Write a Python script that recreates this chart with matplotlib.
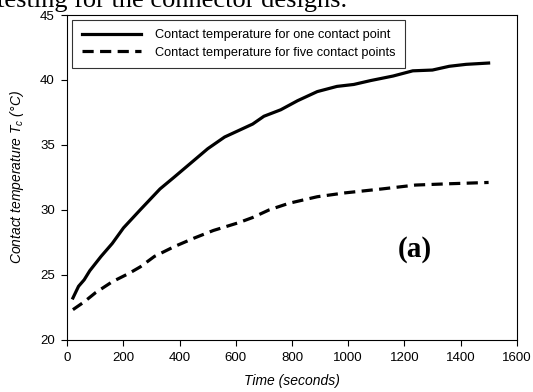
import numpy as np
import matplotlib
matplotlib.use('Agg')
import matplotlib.pyplot as plt

plt.rcParams['font.family'] = ['Liberation Sans', 'DejaVu Sans']
plt.rcParams['mathtext.fontset'] = 'custom'
plt.rcParams['mathtext.it'] = 'Liberation Sans:italic'
plt.rcParams['mathtext.rm'] = 'Liberation Sans'

# solid: one contact point
t_one = [20, 40, 60, 80, 120, 160, 200, 260, 330, 380, 440, 500, 560, 620,
         660, 700, 760, 820, 890, 960, 1020, 1080, 1160, 1230, 1300, 1360, 1420, 1500]
temp_one = [23.2, 24.1, 24.6, 25.3, 26.4, 27.4, 28.6, 30.0, 31.6, 32.5, 33.6, 34.7, 35.6, 36.2,
            36.6, 37.2, 37.7, 38.4, 39.1, 39.5, 39.65, 39.95, 40.3, 40.7, 40.76, 41.05, 41.2, 41.3]

# dashed: five contact points
t_five = [20, 60, 100, 160, 220, 260, 310, 380, 450, 520, 610, 660, 720, 790,
          890, 990, 1120, 1240, 1360, 1500]
temp_five = [22.3, 22.9, 23.6, 24.45, 25.1, 25.6, 26.4, 27.15, 27.8, 28.4, 29.0, 29.4, 30.0, 30.5,
             31.0, 31.3, 31.6, 31.9, 32.0, 32.1]

labels = ['Contact temperature for one contact point',
          'Contact temperature for five contact points']

fig = plt.figure(figsize=(5.33, 3.92), dpi=100)
ax = fig.add_axes([0.1263, 0.1339, 0.8431, 0.8278])

ax.plot(t_one, temp_one, color='k', lw=2.3, label=labels[0])
ax.plot(t_five, temp_five, color='k', lw=2.3, dashes=(3.5, 2), label=labels[1])

ax.set_xlim(0, 1600)
ax.set_ylim(20, 45)
ax.set_xticks(np.arange(0, 1601, 200))
ax.set_yticks(np.arange(20, 46, 5))
ax.tick_params(direction='out', length=4, width=0.8, labelsize=9.5, pad=5)
for s in ax.spines.values():
    s.set_linewidth(0.8)

ax.set_xlabel('Time (seconds)', fontsize=10, style='italic', labelpad=7)
ax.set_ylabel(r'Contact temperature $T_c$ (°C)', fontsize=10, style='italic', labelpad=10)

leg = ax.legend(loc='upper left', bbox_to_anchor=(0.011, 0.986), fontsize=9.2,
                frameon=True, fancybox=False, edgecolor='k', handlelength=4.6,
                borderpad=0.75, labelspacing=0.45, handletextpad=1.1, borderaxespad=0)
leg.get_frame().set_linewidth(0.8)

ax.text(1238, 26.9, '(a)', fontsize=21, fontweight='bold', family='Liberation Serif',
        ha='center', va='center')

fig.text(347 / 533, (392 - 7) / 392, 'testing for the connector designs.',
         fontsize=19, family='Liberation Serif', ha='right', va='baseline')

plt.savefig('out.png', dpi=100)
